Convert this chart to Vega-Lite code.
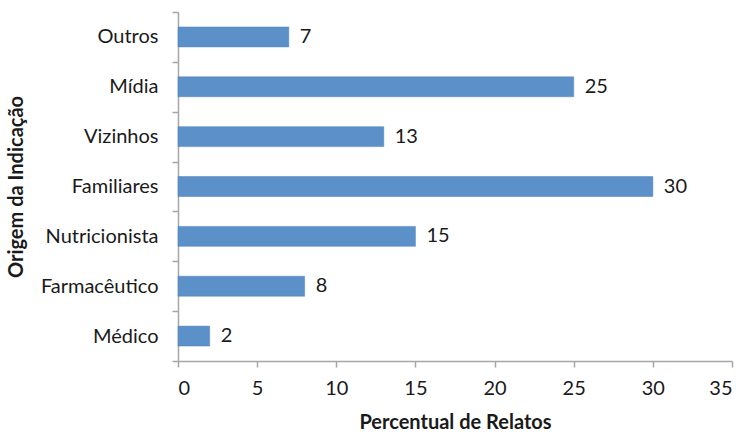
{
  "$schema": "https://vega.github.io/schema/vega-lite/v6.json",
  "width": 554,
  "height": 349,
  "autosize": {"type": "none"},
  "padding": {"left": 178, "top": 12, "right": 13, "bottom": 71},
  "background": "white",
  "config": {
    "view": {"stroke": null},
    "font": "Lato",
    "axis": {"grid": false, "domainColor": "#A6A6A6", "tickColor": "#A6A6A6", "labelColor": "#1a1a1a", "titleColor": "#1a1a1a", "labelFont": "Lato", "titleFont": "Lato", "labelFontSize": 20, "titleFontSize": 20, "titleFontWeight": "bold", "tickSize": 6, "domainWidth": 1.5, "tickWidth": 1.5}
  },
  "data": {
    "values": [
      {"origem": "Outros", "valor": 7},
      {"origem": "Mídia", "valor": 25},
      {"origem": "Vizinhos", "valor": 13},
      {"origem": "Familiares", "valor": 30},
      {"origem": "Nutricionista", "valor": 15},
      {"origem": "Farmacêutico", "valor": 8},
      {"origem": "Médico", "valor": 2}
    ]
  },
  "encoding": {
    "y": {
      "field": "origem",
      "type": "nominal",
      "sort": null,
      "scale": {"paddingInner": 0, "paddingOuter": 0},
      "axis": {"title": "Origem da Indicação", "tickBand": "extent", "labelPadding": 14, "titlePadding": 14}
    },
    "x": {
      "field": "valor",
      "type": "quantitative",
      "scale": {"domain": [0, 35]},
      "axis": {"title": "Percentual de Relatos", "values": [0, 5, 10, 15, 20, 25, 30, 35], "labelPadding": 11, "titlePadding": 14}
    }
  },
  "layer": [
    {"mark": {"type": "bar", "color": "#5B90C8", "stroke": "#4F81BD", "strokeWidth": 0.5, "height": {"band": 0.4}}},
    {"mark": {"type": "text", "align": "left", "dx": 11, "fontSize": 20, "font": "Lato", "color": "#1a1a1a"}, "encoding": {"text": {"field": "valor", "type": "quantitative"}}}
  ]
}
